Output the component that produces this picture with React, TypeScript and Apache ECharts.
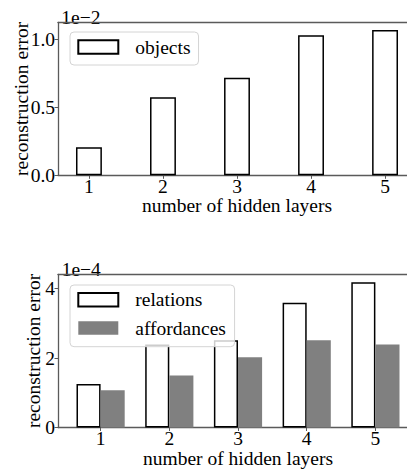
import React, { useEffect, useRef } from "react";
import * as echarts from "echarts";

// number of hidden layers
const categories = [1, 2, 3, 4, 5];
// top panel (scale 1e-2)
const objectsError = [0.206, 0.574, 0.718, 1.029, 1.068];
// bottom panel (scale 1e-4)
const relationsError = [1.25, 2.39, 2.51, 3.59, 4.18];
const affordancesError = [1.07, 1.5, 2.02, 2.51, 2.39];
// tick labels
const topYTicks = [0, 0.5, 1.0];
const bottomYTicks = [0, 2, 4];
const topOffsetText = "1e\u22122";
const bottomOffsetText = "1e\u22124";

const FONT = "Liberation Serif";
const SPINE = "#5a5a5a";
const FS = 19.5;

export default function App() {
  const ref = useRef<HTMLDivElement>(null);
  useEffect(() => {
    if (!ref.current) return;
    const chart = echarts.init(ref.current, null, { renderer: "svg" });
    const textStyle = { fontFamily: FONT, fontSize: FS, color: "#000" };

    const xAxisCommon = (gridIndex: number, min: number, max: number, nameGap: number) => ({
      type: "value",
      gridIndex,
      min,
      max,
      axisLine: { show: true, lineStyle: { color: SPINE, width: 1.3 } },
      axisTick: {
        show: true,
        length: 3.5,
        lineStyle: { color: SPINE, width: 1 },
        customValues: categories,
      },
      axisLabel: {
        ...textStyle,
        lineHeight: 15,
        margin: 3.2,
        customValues: categories,
        formatter: (v: number) => String(v),
      },
      splitLine: { show: false },
      name: "number of hidden layers",
      nameLocation: "middle",
      nameGap,
      nameMoveOverlap: false,
      nameTextStyle: { ...textStyle, lineHeight: 15 },
    });

    const yAxisCommon = (
      gridIndex: number,
      max: number,
      ticks: number[],
      fmt: (v: number) => string,
      nameGap: number
    ) => ({
      type: "value",
      gridIndex,
      min: 0,
      max,
      axisLine: { show: true, lineStyle: { color: SPINE, width: 1.3 } },
      axisTick: {
        show: true,
        length: 3.5,
        lineStyle: { color: SPINE, width: 1 },
        customValues: ticks,
      },
      axisLabel: { ...textStyle, margin: 3, customValues: ticks, formatter: fmt },
      splitLine: { show: false },
      name: "reconstruction error",
      nameLocation: "middle",
      nameGap,
      nameMoveOverlap: false,
      nameTextStyle: { ...textStyle },
    });

    const topBorderAxis = (gridIndex: number, min: number, max: number) => ({
      type: "value",
      gridIndex,
      position: "top",
      min,
      max,
      axisLine: { show: true, lineStyle: { color: SPINE, width: 1.3 } },
      axisTick: { show: false },
      axisLabel: { show: false },
      splitLine: { show: false },
    });

    const legendCommon = {
      orient: "vertical",
      icon: "rect",
      itemWidth: 40,
      itemHeight: 13.4,
      itemGap: 6.3,
      backgroundColor: "rgba(255,255,255,0.8)",
      borderColor: "#d4d4d4",
      borderWidth: 1,
      borderRadius: 4,
      textStyle: {
        ...textStyle,
        lineHeight: 22,
        padding: [0, 0, 0, 12],
      },
    };

    chart.setOption({
      animation: false,
      backgroundColor: "#fff",
      grid: [
        { left: 58, top: 22.3, width: 358, height: 153, outerBoundsMode: "none", containLabel: false },
        { left: 58, top: 274.3, width: 360, height: 153.2, outerBoundsMode: "none", containLabel: false },
      ],
      xAxis: [
        xAxisCommon(0, 0.582, 5.418, 23),
        xAxisCommon(1, 0.38, 5.62, 23.5),
        topBorderAxis(0, 0.582, 5.418),
        topBorderAxis(1, 0.38, 5.62),
      ],
      yAxis: [
        yAxisCommon(0, 1.125, topYTicks, (v: number) => v.toFixed(1), 26.5),
        yAxisCommon(1, 4.41, bottomYTicks, (v: number) => String(v), 14.8),
      ],
      legend: [
        {
          ...legendCommon,
          left: 70,
          top: 32,
          padding: [4, 8, 7, 7.3],
          data: ["objects"],
        },
        {
          ...legendCommon,
          left: 70,
          top: 285,
          padding: [3.7, 8.7, 7.7, 7.3],
          data: ["relations", "affordances"],
        },
      ],
      graphic: [
        {
          type: "text",
          left: 61.3,
          top: 7.5,
          style: { text: topOffsetText, fontFamily: FONT, fontSize: FS, fill: "#000" },
        },
        {
          type: "text",
          left: 61.7,
          top: 259.8,
          style: { text: bottomOffsetText, fontFamily: FONT, fontSize: FS, fill: "#000" },
        },
      ],
      series: [
        {
          name: "objects",
          type: "bar",
          xAxisIndex: 0,
          yAxisIndex: 0,
          barWidth: 25.9,
          data: categories.map((c, i) => [c, objectsError[i]]),
          itemStyle: { color: "#ffffff", borderColor: "#000", borderWidth: 1.5 },
        },
        {
          name: "relations",
          type: "bar",
          xAxisIndex: 1,
          yAxisIndex: 1,
          barWidth: 24.1,
          barGap: "0%",
          data: categories.map((c, i) => [c, relationsError[i]]),
          itemStyle: { color: "#ffffff", borderColor: "#000", borderWidth: 1.5 },
        },
        {
          name: "affordances",
          type: "bar",
          xAxisIndex: 1,
          yAxisIndex: 1,
          barWidth: 24.1,
          barGap: "0%",
          data: categories.map((c, i) => [c, affordancesError[i]]),
          itemStyle: { color: "#808080", borderColor: "#808080", borderWidth: 0 },
        },
      ],
    });
    return () => chart.dispose();
  }, []);
  return (
    <div
      ref={ref}
      style={{ position: "absolute", left: 0, top: 0, width: 407, height: 470 }}
    />
  );
}
